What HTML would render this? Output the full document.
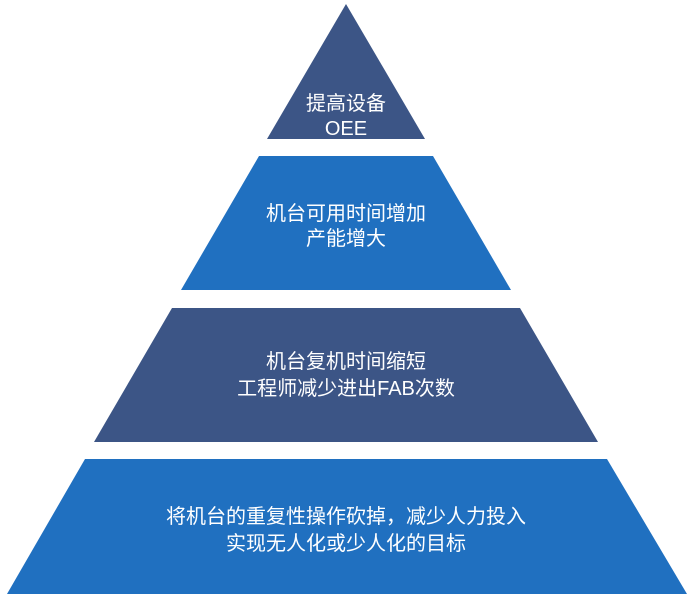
<!DOCTYPE html>
<html><head><meta charset="utf-8"><style>
html,body{margin:0;padding:0;background:#fff;width:697px;height:600px;overflow:hidden}
svg text{font-family:"Liberation Sans","Noto Sans CJK SC",sans-serif;font-size:20px;fill:#fff;text-anchor:middle}
</style></head><body>
<svg width="697" height="600" viewBox="0 0 697 600">
<polygon points="346,4 425,139 267,139" fill="#3c5586"/>
<polygon points="259,156 433,156 511,290 181,290" fill="#2070c0"/>
<polygon points="172,308 520,308 598,442 94,442" fill="#3c5586"/>
<polygon points="85,459 607,459 687,594 7,594" fill="#2070c0"/>
<text x="346" y="110">提高设备</text>
<text x="346" y="135">OEE</text>
<text x="346" y="220">机台可用时间增加</text>
<text x="346" y="245">产能增大</text>
<text x="346" y="368">机台复机时间缩短</text>
<text x="346" y="395">工程师减少进出FAB次数</text>
<text x="346" y="523">将机台的重复性操作砍掉，减少人力投入</text>
<text x="346" y="550">实现无人化或少人化的目标</text>
</svg>
</body></html>
